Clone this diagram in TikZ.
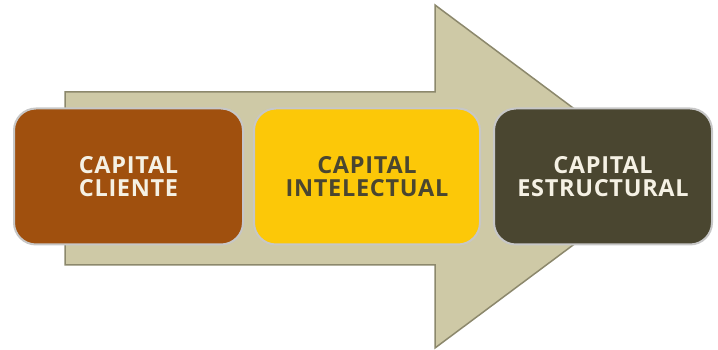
\documentclass[tikz,border=0pt]{standalone}
\usepackage{fontspec}
\setmainfont{Open Sans}
\newfontfamily\capfont[LetterSpace=3]{Open Sans}
\usetikzlibrary{positioning}
\definecolor{arrowtan}{RGB}{206,201,166}
\definecolor{arrowedge}{RGB}{140,136,108}
\definecolor{clientebrown}{RGB}{160,80,14}
\definecolor{intelyellow}{RGB}{252,200,8}
\definecolor{estrucolive}{RGB}{74,70,48}
\definecolor{lighttext}{RGB}{245,241,228}
\tikzset{x=1pt,y=1pt,
    capbox/.style={rounded corners=22pt, draw=black!22, line width=2pt,
        minimum height=136pt, align=center,
        font=\capfont\fontsize{23.5}{23}\selectfont\bfseries},
    flecha/.style={fill=arrowtan, draw=arrowedge, line width=1.5pt, line join=miter},
    }
\begin{document}
\begin{tikzpicture}
\useasboundingbox (0,0) rectangle (718,350);
% big arrow behind the boxes
\draw[flecha] (65,258) -- (435,258) -- (435,345) -- (665,173.5)
    -- (435,2) -- (435,85) -- (65,85) -- cycle;
\node[capbox, fill=clientebrown, text=lighttext, minimum width=229pt]
    (cliente) at (128.5,173.5) {CAPITAL\\CLIENTE};
\node[capbox, fill=intelyellow, text=estrucolive, minimum width=226pt,
    right=9pt of cliente] (intelectual) {CAPITAL\\INTELECTUAL};
\node[capbox, fill=estrucolive, text=lighttext, minimum width=218pt,
    right=12pt of intelectual] (estructural) {CAPITAL\\ESTRUCTURAL};
\end{tikzpicture}
\end{document}
